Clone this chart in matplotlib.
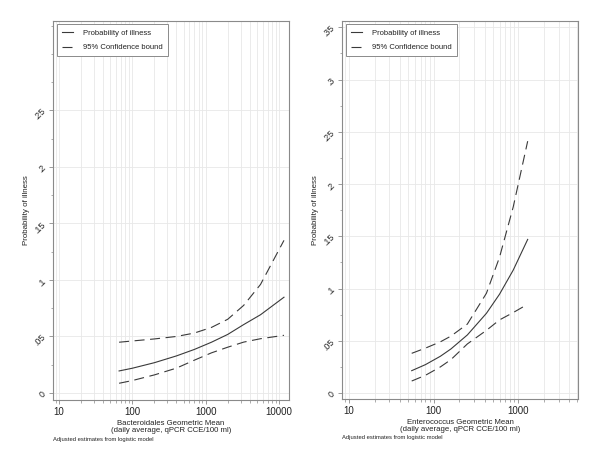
import matplotlib
matplotlib.use("Agg")
import matplotlib.pyplot as plt
from matplotlib.ticker import FixedLocator, MultipleLocator, LogLocator, NullFormatter

plt.rcParams["font.family"] = ["Liberation Sans", "DejaVu Sans"]

# Bacteroidales panel
bact_x = [66, 100, 200, 400, 700, 1200, 2000, 3300, 5600, 11700]
bact_prob = [0.0195, 0.0219, 0.0268, 0.0328, 0.0385, 0.0449, 0.0518, 0.0605, 0.0692, 0.0847]
bact_upper = [0.0449, 0.0460, 0.0478, 0.0500, 0.0530, 0.0580, 0.0652, 0.0775, 0.0960, 0.1350]
bact_lower = [0.0086, 0.0110, 0.0160, 0.0220, 0.0290, 0.0355, 0.0405, 0.0450, 0.0480, 0.0510]

# Enterococcus panel
ent_x = [55, 80, 120, 160, 250, 420, 600, 870, 1290]
ent_prob = [0.0214, 0.0272, 0.0352, 0.0422, 0.0556, 0.0763, 0.0946, 0.1176, 0.1470]
ent_upper = [0.0380, 0.0430, 0.0490, 0.0545, 0.0660, 0.0955, 0.1300, 0.1780, 0.2410]
ent_lower = [0.0115, 0.0170, 0.0250, 0.0320, 0.0470, 0.0600, 0.0700, 0.0770, 0.0850]

legend_labels = ["Probability of illness", "95% Confidence bound"]
line_col = "#3a3a3a"
grid_col = "#e8e8e8"
frame_col = "#8a8a8a"
text_col = "#222222"


def draw_panel(ax, x, prob, upper, lower, xlim, ylim, yticks, xticks, xlabel):
    ax.plot(x, prob, color=line_col, lw=0.8, label=legend_labels[0])
    ax.plot(x, upper, color=line_col, lw=0.8, dashes=(9, 5), label=legend_labels[1])
    ax.plot(x, lower, color=line_col, lw=0.8, dashes=(9, 5))
    ax.set_xscale("log")
    ax.set_xlim(*xlim)
    ax.set_ylim(*ylim)

    ax.xaxis.set_major_locator(FixedLocator(xticks))
    ax.set_xticklabels([str(t) for t in xticks])
    ax.xaxis.set_minor_locator(LogLocator(base=10, subs=range(2, 10)))
    ax.xaxis.set_minor_formatter(NullFormatter())
    ax.yaxis.set_major_locator(FixedLocator(yticks))
    ax.set_yticklabels([("%g" % t).lstrip("0") if t else "0" for t in yticks])
    ax.yaxis.set_minor_locator(MultipleLocator(0.025))

    ax.grid(True, which="major", axis="y", color=grid_col, lw=0.6)
    ax.grid(True, which="both", axis="x", color=grid_col, lw=0.6)
    ax.set_axisbelow(True)

    for s in ax.spines.values():
        s.set_color(frame_col)
        s.set_linewidth(0.8)
    ax.tick_params(axis="x", which="major", length=3, width=0.6, color=frame_col,
                   labelsize=7, labelcolor=text_col, pad=2)
    ax.tick_params(axis="y", which="major", length=3, width=0.6, color=frame_col,
                   labelsize=6.3, labelcolor=text_col, labelrotation=45, pad=1)
    ax.tick_params(axis="both", which="minor", length=1.8, width=0.5, color=frame_col)

    ax.set_ylabel("Probability of illness", fontsize=5.7, color=text_col)
    ax.yaxis.set_label_coords(-0.097, 0.5)
    ax.set_xlabel(xlabel, fontsize=5.6, color=text_col, linespacing=0.95)
    ax.xaxis.set_label_coords(0.5, -0.053)

    leg = ax.legend(loc="upper left", bbox_to_anchor=(0.015, 0.991), borderaxespad=0,
                    fontsize=5.5, handlelength=1.55, handletextpad=1.3,
                    labelspacing=0.95, borderpad=0.65, fancybox=False, framealpha=1)
    leg.get_frame().set_edgecolor(frame_col)
    leg.get_frame().set_linewidth(0.7)
    for t in leg.get_texts():
        t.set_color(text_col)

    ax.text(0.0, -0.103, "Adjusted estimates from logistic model", transform=ax.transAxes,
            fontsize=4.2, color=text_col, va="center", ha="left")


fig = plt.figure(figsize=(6, 4.61), dpi=100)
ax1 = fig.add_axes([53 / 600, 1 - 400 / 461, 236 / 600, 379 / 461])
ax2 = fig.add_axes([342 / 600, 1 - 399 / 461, 236 / 600, 378 / 461])

draw_panel(ax1, bact_x, bact_prob, bact_upper, bact_lower,
           (8.28, 13700), (-0.0062, 0.329),
           [0, 0.05, 0.1, 0.15, 0.2, 0.25], [10, 100, 1000, 10000],
           "Bacteroidales Geometric Mean\n(daily average, qPCR CCE/100 ml)")
draw_panel(ax2, ent_x, ent_prob, ent_upper, ent_lower,
           (8.26, 5070), (-0.0057, 0.356),
           [0, 0.05, 0.1, 0.15, 0.2, 0.25, 0.3, 0.35], [10, 100, 1000],
           "Enterococcus Geometric Mean\n(daily average, qPCR CCE/100 ml)")

fig.savefig("out.png", dpi=100, facecolor="white")
